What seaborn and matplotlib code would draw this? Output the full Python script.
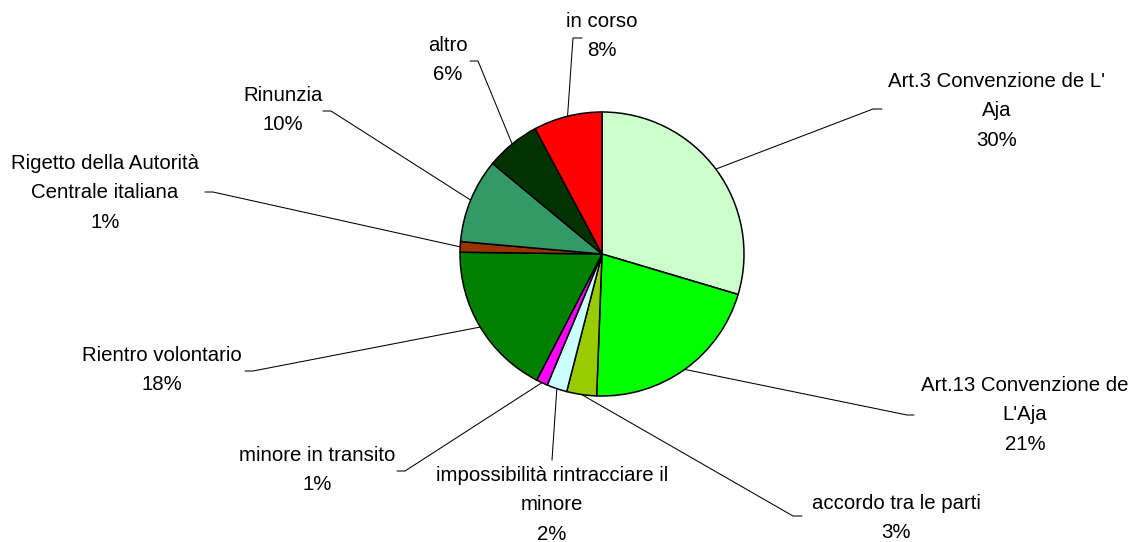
import numpy as np
import seaborn as sns
import matplotlib.pyplot as plt

# slices, clockwise from 12 o'clock
categorie = ["Art.3 Convenzione de L'\nAja", "Art.13 Convenzione de\nL'Aja", "accordo tra le parti",
             "impossibilità rintracciare il\nminore", "minore in transito", "Rientro volontario",
             "Rigetto della Autorità\nCentrale italiana", "Rinunzia", "altro", "in corso"]
valori = [29.6, 21.0, 3.4, 2.3, 1.3, 17.6, 1.2, 9.6, 6.2, 7.8]
colori = ["#CCFFCC", "#00FF00", "#99CC00", "#CCFFFF", "#FF00FF",
          "#008000", "#993300", "#339966", "#003300", "#FF0000"]

# layout in pixels (from the top-left corner)
W, H = 1135, 542
centro = (602, 254)
raggio = 142
testo_xy = [(997, 111), (1025, 415), (896, 518), (552, 505), (317, 470),
            (162, 370), (105, 193), (283, 110), (448, 60), (602, 36)]
fine_linea = [(873, 109), (907, 415), (793, 516), (552, 460), (405, 471),
              (253, 371), (213, 192), (331, 111), (478, 61), (573, 38)]
tacca = [9, 7, 9, 0, -8, -8, -8, -8, -8, 9]

sns.set_style("white")
plt.rcParams['font.family'] = ['Liberation Sans', 'DejaVu Sans']
plt.rcParams['text.color'] = 'black'

fig = plt.figure(figsize=(W / 100, H / 100), dpi=100)
ax = fig.add_axes([0, 0, 1, 1])

wedges, _ = ax.pie(valori, colors=colori, startangle=90, counterclock=False,
                   center=(centro[0], H - centro[1]), radius=raggio,
                   wedgeprops=dict(edgecolor="black", linewidth=1.1))

totale = sum(valori)
for w, nome, v, (tx, ty), (ex, ey), dx in zip(wedges, categorie, valori, testo_xy, fine_linea, tacca):
    ang = np.deg2rad((w.theta1 + w.theta2) / 2)
    sx = centro[0] + raggio * np.cos(ang)
    sy = H - centro[1] + raggio * np.sin(ang)
    ax.plot([sx, ex, ex + dx], [sy, H - ey, H - ey], color="black", lw=0.75)
    ax.text(tx, H - ty, f"{nome}\n{round(v / totale * 100)}%", ha="center", va="center",
            fontsize=14.7, linespacing=1.72, color="black")

ax.set_xlim(0, W)
ax.set_ylim(0, H)
ax.set_aspect("equal")
ax.axis("off")
fig.savefig("out.png", dpi=100, facecolor="white")
